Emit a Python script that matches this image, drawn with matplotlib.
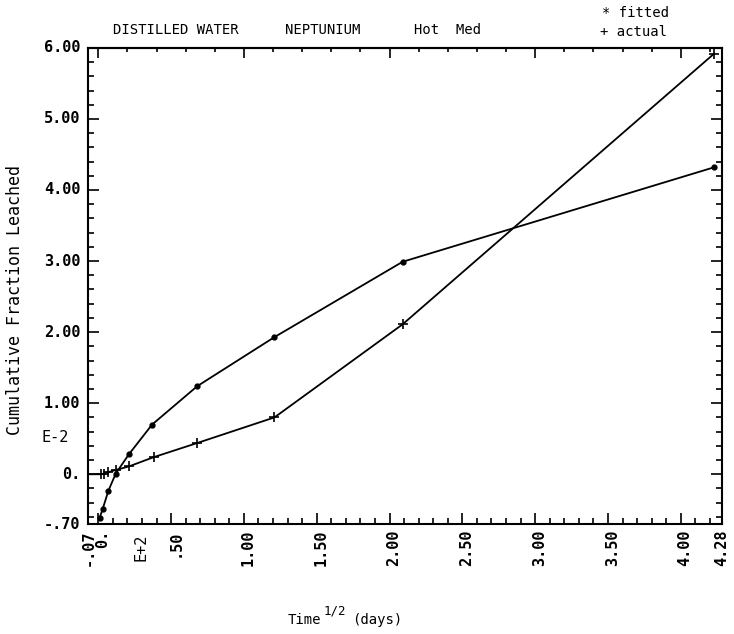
import numpy as np
import matplotlib
matplotlib.use('Agg')
import matplotlib.pyplot as plt
from matplotlib.ticker import MultipleLocator, FixedLocator, NullFormatter

plt.rcParams['font.family'] = ['DejaVu Sans Mono']

# 数据
t_fit = [0.01, 0.03, 0.07, 0.12, 0.21, 0.37, 0.68, 1.21, 2.09, 4.23]
fitted = [-0.61, -0.49, -0.23, 0.01, 0.28, 0.70, 1.24, 1.93, 2.99, 4.32]
t_act = [-0.07, 0.02, 0.04, 0.07, 0.12, 0.21, 0.38, 0.68, 1.21, 2.09, 4.23]
actual = [0.0, 0.0, 0.01, 0.03, 0.06, 0.11, 0.24, 0.44, 0.80, 2.11, 5.92]

x_ticks = [0.0, 0.5, 1.0, 1.5, 2.0, 2.5, 3.0, 3.5, 4.0]
x_labels = ['0.', '.50', '1.00', '1.50', '2.00', '2.50', '3.00', '3.50', '4.00']
y_ticks = [0, 1, 2, 3, 4, 5, 6]
y_labels = ['0.', '1.00', '2.00', '3.00', '4.00', '5.00', '6.00']
x_min, x_max = -0.07, 4.28
y_min, y_max = -0.70, 6.00

fig = plt.figure(figsize=(7.34, 6.34), dpi=100)
ax = fig.add_axes([0.120, 0.1735, 0.863, 0.751])

ax.plot(t_fit, fitted, color='black', lw=1.3, marker='o', ms=3.5)
ax.plot(t_act, actual, color='black', lw=1.3, marker='+', ms=7, mew=1.2,
        markevery=list(range(1, len(t_act))))

ax.set_xlim(x_min, x_max)
ax.set_ylim(y_min, y_max)

for s in ax.spines.values():
    s.set_linewidth(1.5)

# 刻度
ax.xaxis.set_major_locator(FixedLocator(x_ticks))
ax.xaxis.set_minor_locator(MultipleLocator(0.1))
ax.yaxis.set_major_locator(FixedLocator(y_ticks))
ax.yaxis.set_minor_locator(MultipleLocator(0.2))
ax.xaxis.set_major_formatter(NullFormatter())
ax.yaxis.set_major_formatter(NullFormatter())
ax.tick_params(which='both', direction='in', left=True, right=True,
               bottom=True, top=False, width=1.2)
ax.tick_params(which='major', length=8)
ax.tick_params(which='minor', length=4)

top = ax.secondary_xaxis('top')
top.xaxis.set_major_locator(MultipleLocator(1.0))
top.xaxis.set_minor_locator(MultipleLocator(0.2))
top.xaxis.set_major_formatter(NullFormatter())
top.tick_params(which='both', direction='in', width=1.2)
top.tick_params(which='major', length=7)
top.tick_params(which='minor', length=3)
top.spines['top'].set_linewidth(1.5)

lab_kw = dict(fontsize=11, fontweight='bold', clip_on=False)

# y轴标签
for v, s in zip(y_ticks, y_labels):
    ax.text(-0.012, v, s, transform=ax.get_yaxis_transform(), ha='right', va='center', **lab_kw)
ax.text(-0.012, y_min, '-.70', transform=ax.get_yaxis_transform(), ha='right', va='center', **lab_kw)
ax.text(-0.03, 0.52, 'E-2', transform=ax.get_yaxis_transform(), ha='right', va='center',
        fontsize=11, clip_on=False)

# x轴标签（竖排）
for v, s in zip(x_ticks, x_labels):
    ax.text(v + 0.03, -0.012, s, transform=ax.get_xaxis_transform(), rotation=90,
            ha='center', va='top', **lab_kw)
ax.text(x_min, -0.012, '-.07', transform=ax.get_xaxis_transform(), rotation=90,
        ha='center', va='top', **lab_kw)
ax.text(x_max, -0.012, '4.28', transform=ax.get_xaxis_transform(), rotation=90,
        ha='center', va='top', **lab_kw)
ax.text(0.29, -0.02, 'E+2', transform=ax.get_xaxis_transform(), rotation=90,
        ha='center', va='top', fontsize=11, clip_on=False)

# 标题行
head_kw = dict(fontsize=10, ha='left', va='center')
fig.text(113 / 734, 1 - 30 / 634, 'DISTILLED WATER', **head_kw)
fig.text(285 / 734, 1 - 30 / 634, 'NEPTUNIUM', **head_kw)
fig.text(414 / 734, 1 - 30 / 634, 'Hot  Med', **head_kw)
fig.text(602 / 734, 1 - 13 / 634, '* fitted', **head_kw)
fig.text(600 / 734, 1 - 32 / 634, '+ actual', **head_kw)

# 轴标题
fig.text(15 / 734, 1 - 300 / 634, 'Cumulative Fraction Leached', rotation=90,
         ha='center', va='center', fontsize=12)
fig.text(288 / 734, 1 - 620 / 634, 'Time', ha='left', va='center', fontsize=10)
fig.text(324 / 734, 1 - 611 / 634, '1/2', ha='left', va='center', fontsize=9)
fig.text(352 / 734, 1 - 620 / 634, '(days)', ha='left', va='center', fontsize=10)

fig.savefig('out.png', dpi=100)
